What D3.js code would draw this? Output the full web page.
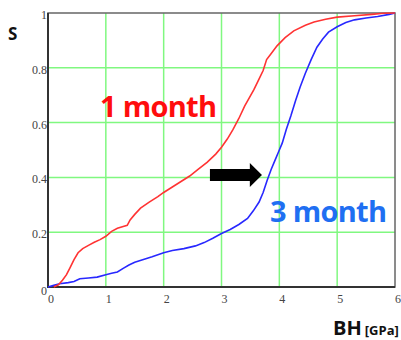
<!DOCTYPE html>
<html><head><meta charset="utf-8">
<script src="https://cdn.jsdelivr.net/npm/d3@7"></script>
<style>body{margin:0;background:#fff}svg{display:block}</style>
</head><body>
<script>
const xTicks = [0,1,2,3,4,5,6];
const yTicks = [0,0.2,0.4,0.6,0.8,1];
const yTickLabels = ["0","0.2","0.4","0.6","0.8","1"];
const seriesNames = ["1 month","3 month"];
const bh1 = [0.10,0.18,0.25,0.32,0.38,0.45,0.52,0.60,0.70,0.80,0.90,1.00,1.10,1.20,1.30,1.37,1.42,1.50,1.60,1.75,1.90,2.00,2.15,2.30,2.45,2.60,2.75,2.90,3.00,3.10,3.20,3.30,3.40,3.48,3.56,3.64,3.72,3.78,3.86,3.96,4.10,4.25,4.45,4.60,4.80,5.00,5.30,5.60,5.80,6.00];
const s1  = [0.000,0.008,0.025,0.045,0.070,0.100,0.125,0.140,0.152,0.163,0.173,0.185,0.203,0.214,0.221,0.225,0.245,0.265,0.288,0.310,0.330,0.345,0.365,0.385,0.405,0.430,0.455,0.485,0.510,0.540,0.575,0.615,0.660,0.690,0.720,0.755,0.790,0.830,0.852,0.880,0.910,0.935,0.955,0.967,0.977,0.985,0.990,0.995,0.999,1.000];
const bh3 = [0.00,0.10,0.20,0.35,0.45,0.55,0.70,0.85,1.00,1.10,1.20,1.30,1.40,1.50,1.65,1.80,2.00,2.15,2.35,2.55,2.70,2.85,3.00,3.15,3.30,3.45,3.55,3.65,3.72,3.79,3.86,3.93,3.98,4.05,4.12,4.20,4.28,4.36,4.45,4.55,4.65,4.75,4.85,5.00,5.15,5.30,5.50,5.70,5.90,6.00];
const s3  = [0.000,0.006,0.012,0.016,0.020,0.030,0.033,0.036,0.045,0.050,0.055,0.068,0.080,0.090,0.100,0.110,0.125,0.133,0.140,0.150,0.162,0.178,0.195,0.210,0.228,0.250,0.278,0.310,0.345,0.390,0.430,0.465,0.490,0.525,0.575,0.625,0.680,0.730,0.780,0.830,0.875,0.905,0.930,0.950,0.965,0.975,0.982,0.987,0.995,1.000];
// arrow annotation (data coords)
const arrowX = [2.80,3.49,3.70];
const arrowY = [0.365,0.387,0.409,0.431,0.453];

const W=401,H=340;
const svg=d3.select("body").append("svg").attr("width",W).attr("height",H);
const x=d3.scaleLinear().domain([0,6]).range([48,395]);
const y=d3.scaleLinear().domain([0,1]).range([287,13]);

// grid
svg.append("g").selectAll("line").data(xTicks.slice(1,-1)).join("line")
  .attr("x1",d=>x(d)).attr("x2",d=>x(d)).attr("y1",y(0)).attr("y2",y(1))
  .attr("stroke","#80f880").attr("stroke-width",1.5);
svg.append("g").selectAll("line").data(yTicks.slice(1,-1)).join("line")
  .attr("x1",x(0)).attr("x2",x(6)).attr("y1",d=>y(d)).attr("y2",d=>y(d))
  .attr("stroke","#80f880").attr("stroke-width",1.5);

// frame
svg.append("rect").attr("x",x(0)).attr("y",y(1)).attr("width",x(6)-x(0)).attr("height",y(0)-y(1))
  .attr("fill","none").attr("stroke","#666").attr("stroke-width",1.5);
svg.append("path").attr("d",`M${x(0)},${y(1)}V${y(0)}H${x(6)}`).attr("fill","none").attr("stroke","#333").attr("stroke-width",2);

// tick labels
svg.append("g").selectAll("text").data(xTicks).join("text")
  .attr("x",d=>x(d)+3).attr("y",303).attr("text-anchor","middle")
  .attr("font-family","'Liberation Serif', 'DejaVu Serif', serif").attr("font-size",12).attr("fill","#444").text(d=>d);
svg.append("g").selectAll("text").data(yTicks).join("text")
  .attr("x",x(0)-1).attr("y",(d,i)=>y(d)+(i===0?8:6)).attr("text-anchor","end")
  .attr("font-family","'Liberation Serif', 'DejaVu Serif', serif").attr("font-size",12).attr("fill","#444").text((d,i)=>yTickLabels[i]);

// curves
const line=d3.line().x(d=>x(d[0])).y(d=>y(d[1]));
svg.append("path").datum(bh3.map((v,i)=>[v,s3[i]])).attr("d",line)
  .attr("fill","none").attr("stroke","#2828ff").attr("stroke-width",1.6);
svg.append("path").datum(bh1.map((v,i)=>[v,s1[i]])).attr("d",line)
  .attr("fill","none").attr("stroke","#ff3333").attr("stroke-width",1.6);

// arrow
const ap=[[arrowX[0],arrowY[3]],[arrowX[1],arrowY[3]],[arrowX[1],arrowY[4]],[arrowX[2],arrowY[2]],[arrowX[1],arrowY[0]],[arrowX[1],arrowY[1]],[arrowX[0],arrowY[1]]];
svg.append("polygon").attr("points",ap.map(p=>[x(p[0]),y(p[1])].join(",")).join(" ")).attr("fill","#000");

// series labels
svg.append("text").attr("x",100).attr("y",117).attr("font-family","Open Sans").attr("font-weight","bold")
  .attr("font-size",29).attr("textLength",117).attr("fill","#ff0d0d").text(seriesNames[0]);
svg.append("text").attr("x",270).attr("y",222).attr("font-family","Open Sans").attr("font-weight","bold")
  .attr("font-size",29).attr("textLength",117).attr("fill","#1f6ff2").text(seriesNames[1]);

// axis titles
svg.append("text").attr("x",8).attr("y",40).attr("font-family","Open Sans").attr("font-weight","bold")
  .attr("font-size",17).attr("fill","#111").text("S");
const t=svg.append("text").attr("x",333).attr("y",335).attr("font-family","Open Sans").attr("font-weight","bold").attr("fill","#111");
t.append("tspan").attr("font-size",20).text("BH");
t.append("tspan").attr("font-size",13).attr("dx",3).text("[GPa]");
</script>
</body></html>
